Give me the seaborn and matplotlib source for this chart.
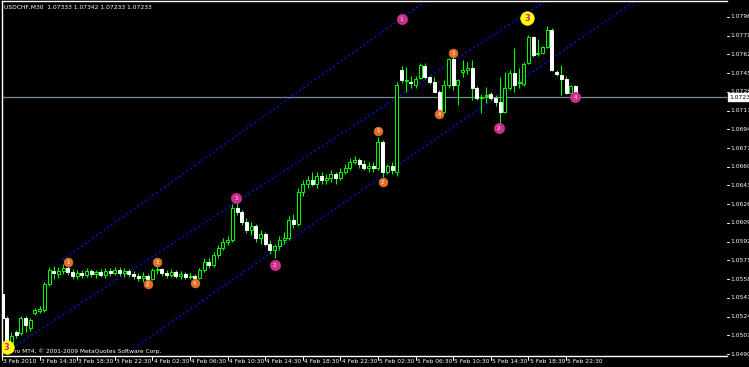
import matplotlib
matplotlib.use("Agg")
import matplotlib.pyplot as plt
import matplotlib.transforms as mtransforms
import seaborn as sns
import pandas as pd

sns.set_theme(style="dark")
plt.rcParams['font.family'] = ['DejaVu Sans']

symbol = "USDCHF,M30"
copyright_text = "FxPro MT4, \u00a9 2001-2009 MetaQuotes Software Corp."

time_labels = ["3 Feb 2010", "3 Feb 14:30", "3 Feb 18:30", "3 Feb 22:30",
               "4 Feb 02:30", "4 Feb 06:30", "4 Feb 10:30", "4 Feb 14:30",
               "4 Feb 18:30", "4 Feb 22:30", "5 Feb 02:30", "5 Feb 06:30",
               "5 Feb 10:30", "5 Feb 14:30", "5 Feb 18:30", "5 Feb 22:30"]
label_bars = [0, 8, 16, 24, 32, 40, 48, 56, 64, 72, 80, 88, 96, 104, 112, 120]

price_ticks = [1.04900, 1.05070, 1.05240, 1.05410, 1.05580, 1.05750, 1.05920,
               1.06090, 1.06260, 1.06430, 1.06600, 1.06770, 1.06940, 1.07110,
               1.07280, 1.07450, 1.07620, 1.07790, 1.07960]

opens = [1.05444, 1.05226, 1.04981, 1.05098, 1.05089, 1.05226, 1.05136, 1.05272, 1.05290, 1.05299,
         1.05535, 1.05653, 1.05626, 1.05653, 1.05680, 1.05644, 1.05607, 1.05635, 1.05617, 1.05653,
         1.05626, 1.05644, 1.05617, 1.05653, 1.05635, 1.05662, 1.05635, 1.05653, 1.05626, 1.05607,
         1.05589, 1.05607, 1.05580, 1.05662, 1.05671, 1.05635, 1.05617, 1.05644, 1.05607, 1.05626,
         1.05598, 1.05607, 1.05589, 1.05662, 1.05734, 1.05707, 1.05798, 1.05862, 1.05916, 1.05935,
         1.06226, 1.06189, 1.06098, 1.06025, 1.06062, 1.05953, 1.05989, 1.05898, 1.05843, 1.05880,
         1.05935, 1.05953, 1.06116, 1.06080, 1.06371, 1.06443, 1.06480, 1.06443, 1.06516, 1.06480,
         1.06498, 1.06534, 1.06498, 1.06552, 1.06589, 1.06643, 1.06661, 1.06625, 1.06589, 1.06607,
         1.06589, 1.06825, 1.06552, 1.06607, 1.06552, 1.07478, 1.07378, 1.07369, 1.07342, 1.07406,
         1.07515, 1.07415, 1.07369, 1.07278, 1.07097, 1.07342, 1.07578, 1.07342, 1.07460, 1.07478,
         1.07497, 1.07315, 1.07224, 1.07242, 1.07261, 1.07224, 1.07188, 1.07097, 1.07315, 1.07451,
         1.07360, 1.07351, 1.07542, 1.07778, 1.07624, 1.07633, 1.07687, 1.07842, 1.07460, 1.07433,
         1.07397, 1.07270, 1.07333]
highs = [1.05481, 1.05245, 1.05098, 1.05116, 1.05245, 1.05245, 1.05226, 1.05317, 1.05335, 1.05553,
         1.05689, 1.05698, 1.05689, 1.05716, 1.05698, 1.05671, 1.05662, 1.05662, 1.05680, 1.05671,
         1.05662, 1.05671, 1.05680, 1.05680, 1.05689, 1.05689, 1.05680, 1.05671, 1.05653, 1.05635,
         1.05644, 1.05626, 1.05680, 1.05698, 1.05680, 1.05662, 1.05671, 1.05662, 1.05653, 1.05644,
         1.05635, 1.05626, 1.05680, 1.05771, 1.05771, 1.05825, 1.05889, 1.05953, 1.05971, 1.06263,
         1.06272, 1.06208, 1.06135, 1.06098, 1.06080, 1.06025, 1.06007, 1.05935, 1.05898, 1.05971,
         1.06007, 1.06153, 1.06171, 1.06407, 1.06480, 1.06516, 1.06552, 1.06552, 1.06552, 1.06534,
         1.06570, 1.06552, 1.06589, 1.06625, 1.06680, 1.06698, 1.06680, 1.06661, 1.06643, 1.06643,
         1.06870, 1.06843, 1.06625, 1.06643, 1.07369, 1.07515, 1.07506, 1.07424, 1.07424, 1.07542,
         1.07542, 1.07424, 1.07415, 1.07296, 1.07388, 1.07587, 1.07615, 1.07397, 1.07569, 1.07551,
         1.07569, 1.07333, 1.07261, 1.07324, 1.07278, 1.07251, 1.07415, 1.07460, 1.07478, 1.07678,
         1.07497, 1.07551, 1.07796, 1.07787, 1.07760, 1.07696, 1.07878, 1.07860, 1.07478, 1.07524,
         1.07424, 1.07342, 1.07342]
lows = [1.05208, 1.04981, 1.04936, 1.05044, 1.05071, 1.05098, 1.05107, 1.05254, 1.05272, 1.05281,
        1.05516, 1.05580, 1.05589, 1.05626, 1.05617, 1.05580, 1.05580, 1.05589, 1.05598, 1.05598,
        1.05589, 1.05598, 1.05589, 1.05607, 1.05617, 1.05607, 1.05598, 1.05598, 1.05580, 1.05562,
        1.05553, 1.05562, 1.05571, 1.05626, 1.05607, 1.05589, 1.05598, 1.05589, 1.05580, 1.05580,
        1.05580, 1.05571, 1.05580, 1.05644, 1.05680, 1.05689, 1.05771, 1.05843, 1.05889, 1.05916,
        1.06162, 1.06071, 1.05998, 1.05980, 1.05916, 1.05898, 1.05880, 1.05807, 1.05771, 1.05843,
        1.05898, 1.05935, 1.06044, 1.06062, 1.06334, 1.06407, 1.06425, 1.06407, 1.06443, 1.06443,
        1.06461, 1.06443, 1.06480, 1.06534, 1.06570, 1.06625, 1.06589, 1.06570, 1.06552, 1.06552,
        1.06570, 1.06507, 1.06534, 1.06534, 1.06516, 1.07360, 1.07278, 1.07315, 1.07315, 1.07397,
        1.07397, 1.07351, 1.07278, 1.07079, 1.07088, 1.07315, 1.07296, 1.07161, 1.07415, 1.07442,
        1.07206, 1.07206, 1.07088, 1.07179, 1.07206, 1.07152, 1.06979, 1.07088, 1.07296, 1.07278,
        1.07315, 1.07333, 1.07533, 1.07596, 1.07605, 1.07624, 1.07678, 1.07469, 1.07424, 1.07251,
        1.07261, 1.07261, 1.07233]
closes = [1.05226, 1.05017, 1.05062, 1.05071, 1.05226, 1.05163, 1.05208, 1.05299, 1.05308, 1.05535,
          1.05662, 1.05635, 1.05653, 1.05680, 1.05644, 1.05607, 1.05635, 1.05617, 1.05653, 1.05626,
          1.05644, 1.05617, 1.05653, 1.05635, 1.05662, 1.05635, 1.05653, 1.05626, 1.05607, 1.05589,
          1.05607, 1.05580, 1.05662, 1.05671, 1.05635, 1.05617, 1.05644, 1.05607, 1.05626, 1.05598,
          1.05607, 1.05589, 1.05662, 1.05734, 1.05707, 1.05798, 1.05862, 1.05916, 1.05935, 1.06226,
          1.06189, 1.06098, 1.06025, 1.06062, 1.05953, 1.05989, 1.05898, 1.05843, 1.05880, 1.05935,
          1.05953, 1.06116, 1.06080, 1.06371, 1.06443, 1.06480, 1.06443, 1.06516, 1.06480, 1.06498,
          1.06534, 1.06498, 1.06552, 1.06589, 1.06643, 1.06661, 1.06625, 1.06589, 1.06607, 1.06589,
          1.06825, 1.06552, 1.06607, 1.06570, 1.07342, 1.07388, 1.07388, 1.07360, 1.07397, 1.07524,
          1.07415, 1.07369, 1.07278, 1.07097, 1.07342, 1.07578, 1.07342, 1.07388, 1.07478, 1.07497,
          1.07315, 1.07224, 1.07233, 1.07251, 1.07224, 1.07188, 1.07097, 1.07315, 1.07451, 1.07342,
          1.07369, 1.07533, 1.07778, 1.07615, 1.07633, 1.07687, 1.07842, 1.07478, 1.07442, 1.07397,
          1.07270, 1.07333, 1.07233]

# Elliott-wave style circle labels (bar index, price, text)
orange_bar = [14, 31, 33, 41, 80, 81, 93, 96]
orange_price = [1.05734, 1.05535, 1.05734, 1.05544, 1.06925, 1.06461, 1.07079, 1.07633]
orange_text = ["1", "2", "3", "4", "1", "2", "4", "3"]
pink_bar = [49.8, 58, 85, 105.7, 122]
pink_price = [1.06316, 1.05707, 1.07941, 1.06952, 1.07233]
pink_text = ["1", "2", "1", "2", "4"]
yellow_bar = [1, 111.7]
yellow_price = [1.04963, 1.07950]
yellow_text = ["3", "3"]

# channel lines (start bar, start price, end bar, end price)
chan_x0 = [2.1, 12.8, 28.0]
chan_y0 = [1.04954, 1.05753, 1.04950]
chan_x1 = [160.0, 160.0, 160.0]
chan_y1 = [1.09337, 1.10232, 1.08856]

GREEN = "#00FF00"
df = pd.DataFrame({"bar": range(len(opens)), "open": opens, "high": highs,
                   "low": lows, "close": closes})

W, H = 749, 367
fig = plt.figure(figsize=(W / 100, H / 100), dpi=100, facecolor="black")
ax_l, ax_r, ax_t, ax_b = 1.5, 727, 1, 356
ax = fig.add_axes([ax_l / W, (H - ax_b) / H, (ax_r - ax_l) / W, (ax_b - ax_t) / H])
ax.set_facecolor("black")

bar_px = 4.7
x0_px = 2.0
ax.set_xlim((ax_l - x0_px) / bar_px, (ax_r - x0_px) / bar_px)
px_price = 0.0306 / 337.0
p_top = 1.07960 + (17 - ax_t) * px_price
p_bot = 1.04900 - (ax_b - 354) * px_price
ax.set_ylim(p_bot, p_top)

# wicks
ax.vlines(df["bar"], df["low"], df["high"], color=GREEN, lw=0.8, zorder=2)
# bodies
bw = 3.0 / bar_px
for _, r in df.iterrows():
    lo, hi = min(r["open"], r["close"]), max(r["open"], r["close"])
    bull = r["close"] >= r["open"]
    if hi - lo < 1e-6:
        ax.hlines(lo, r["bar"] - bw / 2, r["bar"] + bw / 2, color=GREEN, lw=0.8, zorder=3)
        continue
    ax.bar(r["bar"], hi - lo, bottom=lo, width=bw,
           color="black" if bull else "white",
           edgecolor=GREEN if bull else "white", linewidth=0.7, zorder=3)

# channel lines
for xa, ya, xb, yb in zip(chan_x0, chan_y0, chan_x1, chan_y1):
    sns.lineplot(x=[xa, xb], y=[ya, yb], ax=ax, color="#1010FF", lw=0.9,
                 linestyle=(0, (1.5, 2.2)), zorder=1)

# current price line
last = closes[-1]
ax.axhline(last, color="#778899", lw=0.9, zorder=1)

# circles
def circles(xs, ys, txts, face, size, tcolor, fs):
    sns.scatterplot(x=xs, y=ys, ax=ax, s=size, color=face, edgecolor=face,
                    linewidth=0.5, zorder=5, legend=False)
    for xx, yy, tt in zip(xs, ys, txts):
        ax.text(xx, yy, tt, color=tcolor, fontsize=fs, ha="center", va="center",
                zorder=6, fontweight="bold")

circles(orange_bar, orange_price, orange_text, "#E0702A", 40, "#FFD0A0", 3.5)
circles(pink_bar, pink_price, pink_text, "#C8308C", 55, "#FF9CD8", 3.8)
circles(yellow_bar, yellow_price, yellow_text, "#FFFF00", 95, "#D0208C", 6)

# frame
for side in ["left", "top", "bottom"]:
    ax.spines[side].set_color("white")
    ax.spines[side].set_linewidth(1.0)
ax.spines["right"].set_visible(False)
ax.set_xticks([])
ax.set_yticks([])
ax.set_xlabel("")
ax.set_ylabel("")

# price axis labels
yb_tr = mtransforms.blended_transform_factory(ax.transAxes, ax.transData)
for p in price_ticks:
    ax.text(1.0 + 3 / (ax_r - ax_l), p, "%.5f" % p, color="white", fontsize=4.3,
            ha="left", va="center", transform=yb_tr, clip_on=False)
    ax.plot([1.0, 1.0 + 2 / (ax_r - ax_l)], [p, p], color="white", lw=0.7,
            transform=yb_tr, clip_on=False)
ax.text(1.0 + 2 / (ax_r - ax_l), last, "%.5f" % last, color="black", fontsize=4.3,
        ha="left", va="center", transform=yb_tr, clip_on=False, zorder=7,
        bbox=dict(boxstyle="square,pad=0.25", fc="white", ec="white"))

# time axis labels
tb = mtransforms.blended_transform_factory(ax.transData, ax.transAxes)
for b, lab in zip(label_bars, time_labels):
    ax.plot([b, b], [0, -4 / (ax_b - ax_t)], color="white", lw=0.7, transform=tb, clip_on=False)
    ax.text(b + 1.2 / bar_px, -5.5 / (ax_b - ax_t), lab, color="white", fontsize=4.3,
            ha="left", va="center", transform=tb, clip_on=False)

# header and copyright
o, h, l, c = opens[-1], highs[-1], lows[-1], closes[-1]
fig.text(4 / W, 1 - 7 / H, "%s  %.5f %.5f %.5f %.5f" % (symbol, o, h, l, c),
         color="white", fontsize=4.3, ha="left", va="center")
ax.text(3 / (ax_r - ax_l), 5 / (ax_b - ax_t), copyright_text, color="white",
        fontsize=4.2, ha="left", va="center", transform=ax.transAxes, zorder=4)

fig.savefig("out.png", dpi=100, facecolor="black")
